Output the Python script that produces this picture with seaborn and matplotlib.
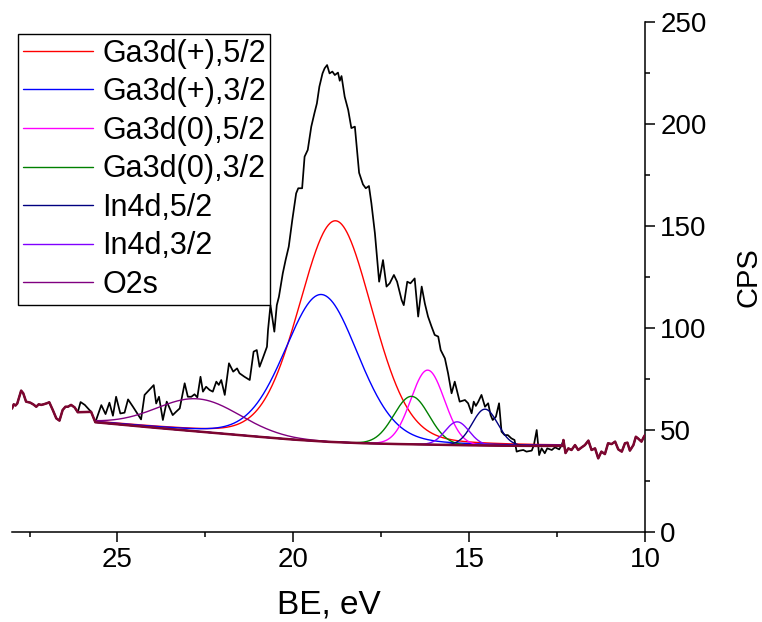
import numpy as np
import pandas as pd
import matplotlib
matplotlib.use("Agg")
import matplotlib.pyplot as plt
from matplotlib.ticker import FixedLocator
import seaborn as sns

# Measured Ga3d / In4d region: binding energy (eV) and counts per second
be = [28.00, 27.95, 27.90, 27.85, 27.74, 27.68, 27.60, 27.48, 27.39, 27.31,
      27.24, 27.17, 27.10, 27.01, 26.94, 26.84, 26.74, 26.65, 26.56, 26.48,
      26.41, 26.32, 26.22, 26.13, 26.05, 25.93, 25.75, 25.63, 25.46, 25.34,
      25.23, 25.13, 25.04, 24.92, 24.80, 24.70, 24.56, 24.33, 24.23, 23.97,
      23.90, 23.82, 23.71, 23.60, 23.43, 23.33, 23.23, 23.09, 23.00, 22.90,
      22.81, 22.73, 22.64, 22.57, 22.48, 22.38, 22.29, 22.19, 22.12, 22.05,
      21.95, 21.83, 21.71, 21.60, 21.53, 21.39, 21.24, 21.13, 21.04, 20.96,
      20.87, 20.75, 20.72, 20.65, 20.54, 20.47, 20.41, 20.30, 20.22, 20.13,
      20.03, 19.92, 19.86, 19.75, 19.68, 19.59, 19.49, 19.40, 19.33, 19.26,
      19.17, 19.11, 19.04, 18.97, 18.89, 18.82, 18.73, 18.68, 18.63, 18.54,
      18.44, 18.35, 18.25, 18.13, 18.02, 17.94, 17.85, 17.78, 17.68, 17.56,
      17.45, 17.35, 17.26, 17.14, 17.05, 16.92, 16.86, 16.76, 16.67, 16.55,
      16.45, 16.35, 16.26, 16.17, 16.07, 15.98, 15.88, 15.81, 15.69, 15.60,
      15.50, 15.41, 15.27, 15.12, 15.03, 14.93, 14.87, 14.81, 14.74, 14.65,
      14.55, 14.46, 14.39, 14.33, 14.24, 14.15, 14.08, 13.99, 13.90, 13.80,
      13.71, 13.65, 13.56, 13.46, 13.37, 13.22, 13.16, 13.08, 13.01, 12.94,
      12.85, 12.78, 12.65, 12.56, 12.44, 12.37, 12.32, 12.26, 12.18, 12.09,
      11.99, 11.90, 11.80, 11.71, 11.61, 11.52, 11.42, 11.33, 11.24, 11.14,
      11.05, 10.95, 10.85, 10.76, 10.66, 10.57, 10.50, 10.43, 10.33, 10.26,
      10.20, 10.10, 10.03, 10.00]
cps = [60.5, 62.6, 62.0, 63.0, 69.3, 68.0, 63.9, 63.4, 62.5, 61.4,
       62.6, 62.3, 62.6, 63.1, 63.6, 59.8, 55.7, 54.6, 59.8, 61.4,
       61.4, 62.3, 61.1, 58.7, 63.7, 62.3, 58.9, 53.8, 62.2, 57.8,
       63.4, 57.0, 66.3, 58.1, 58.5, 65.0, 61.4, 55.2, 67.2, 72.0,
       63.0, 66.3, 54.9, 63.9, 57.3, 59.0, 60.6, 72.9, 66.3, 66.3,
       67.5, 66.0, 76.1, 68.8, 71.2, 69.6, 68.8, 73.7, 72.1, 74.5,
       67.2, 82.7, 78.6, 80.2, 77.8, 76.1, 74.5, 88.4, 89.2, 81.0,
       85.1, 90.8, 99.0, 111.2, 98.2, 111.2, 115.3, 126.8, 133.3, 139.9,
       152.9, 166.0, 168.5, 168.5, 184.0, 187.3, 198.7, 205.3, 210.1, 218.3,
       224.8, 227.3, 228.9, 224.8, 225.7, 224.0, 225.2, 221.2, 223.5, 213.4,
       206.9, 198.0, 198.7, 176.1, 170.4, 168.5, 169.6, 161.1, 146.4, 122.7,
       133.3, 120.3, 121.9, 126.0, 122.7, 113.7, 111.2, 122.7, 121.9, 124.3,
       105.6, 120.3, 112.0, 105.6, 100.7, 96.6, 95.8, 89.2, 85.1, 77.8,
       68.0, 73.7, 63.9, 64.7, 63.1, 58.2, 63.9, 61.8, 63.9, 67.2,
       61.4, 63.1, 57.3, 54.9, 56.5, 63.1, 49.2, 47.5, 47.5, 45.9,
       45.1, 39.4, 39.9, 40.2, 39.4, 39.9, 42.6, 50.0, 37.7, 41.0,
       38.6, 41.0, 40.2, 41.5, 40.5, 42.6, 45.1, 38.7, 41.0, 40.2,
       42.6, 40.2, 41.5, 42.6, 44.8, 40.2, 41.0, 36.1, 39.4, 38.2,
       43.5, 43.1, 44.3, 40.5, 39.4, 43.5, 43.8, 39.9, 42.6, 46.7,
       45.9, 44.3, 46.7, 47.5]

# Background under the fitted envelope (anchor points across the fit window)
bg_be = [25.63, 25.0, 24.0, 23.0, 22.0, 21.0, 20.0, 19.0, 18.0, 17.0, 16.0, 15.0, 14.0, 13.0, 12.33]
bg_cps = [53.8, 52.8, 51.2, 49.7, 48.2, 46.7, 45.3, 44.2, 43.5, 43.1, 42.8, 42.5, 42.3, 42.2, 42.2]

# Fitted components
peak_names = ["Ga3d(+),5/2", "Ga3d(+),3/2", "Ga3d(0),5/2", "Ga3d(0),3/2",
              "In4d,5/2", "In4d,3/2", "O2s"]
peak_center = [18.80, 19.20, 16.18, 16.64, 14.55, 15.34, 22.70]
peak_height = [108.5, 72.0, 36.5, 23.5, 17.8, 11.4, 16.0]
peak_fwhm = [2.45, 2.45, 1.12, 1.18, 0.85, 0.80, 2.80]
peak_lorentz = [0.15, 0.15, 0.0, 0.0, 0.0, 0.0, 0.0]
peak_colors = ["#FF0000", "#0000FF", "#FF00FF", "#008000", "#000080", "#8000FF", "#800080"]

FIT_HI = 25.75      # upper edge of the fit window (eV)
FIT_LO = 12.33      # lower edge of the fit window (eV)
BASE_COLOR = "#7D0630"

sns.set_style("white")
plt.rcParams["font.family"] = ["Liberation Sans", "DejaVu Sans"]
plt.rcParams.update({"text.color": "black", "axes.labelcolor": "black",
                     "xtick.color": "black", "ytick.color": "black"})

spec = pd.DataFrame({"be": be, "cps": cps})
background = pd.DataFrame({"be": bg_be, "cps": bg_cps})

fig = plt.figure(figsize=(7.62, 6.22), dpi=100)
ax = fig.add_axes([12 / 762, 90 / 622, 633 / 762, 510 / 622])

# raw spectrum
sns.lineplot(data=spec, x="be", y="cps", ax=ax, color="black", lw=1.25,
             sort=False, estimator=None, zorder=2)

# component curves, each drawn on top of the background
grid = np.linspace(bg_be[0], bg_be[-1], 800)
bg_grid = np.interp(grid, bg_be[::-1], bg_cps[::-1])
handles = []
for name, c, h, w, eta, col in zip(peak_names, peak_center, peak_height,
                                   peak_fwhm, peak_lorentz, peak_colors):
    u = (grid - c) / w
    shape = (1 - eta) * np.exp(-4 * np.log(2) * u ** 2) + eta / (1 + 4 * u ** 2)
    comp = pd.DataFrame({"be": grid, "cps": bg_grid + h * shape})
    sns.lineplot(data=comp, x="be", y="cps", ax=ax, color=col, lw=1.0,
                 sort=False, estimator=None, zorder=3)
    handles.append(ax.lines[-1])

# baseline: data outside the window joined to the background inside it
left = spec[(spec.be >= 26.1) | np.isclose(spec.be, FIT_HI)]
right = spec[spec.be < FIT_LO]
trace = pd.concat([left, background, right], ignore_index=True)
sns.lineplot(data=trace, x="be", y="cps", ax=ax, color=BASE_COLOR, lw=1.8,
             sort=False, estimator=None, zorder=4)

ax.set_xlim(28, 10)
ax.set_ylim(0, 250)
ax.spines["left"].set_visible(False)
ax.spines["top"].set_visible(False)
for s in ("bottom", "right"):
    ax.spines[s].set_linewidth(1.1)
    ax.spines[s].set_color("black")

ax.yaxis.tick_right()
ax.yaxis.set_label_position("right")
ax.set_xticks([25, 20, 15, 10])
ax.xaxis.set_minor_locator(FixedLocator([27.5, 22.5, 17.5, 12.5]))
ax.set_yticks([0, 50, 100, 150, 200, 250])
ax.yaxis.set_minor_locator(FixedLocator([25, 75, 125, 175, 225]))
ax.tick_params(which="major", direction="out", length=7, width=1.1, color="black",
               labelcolor="black", labelsize=20, pad=4)
ax.tick_params(which="minor", direction="out", length=3.5, width=1.1, color="black")
ax.tick_params(axis="y", which="both", left=False, right=True)
ax.tick_params(axis="x", which="both", bottom=True, top=False)

ax.set_xlabel("BE, eV", fontsize=24, labelpad=12, color="black")
ax.set_ylabel("CPS", fontsize=21, labelpad=20, color="black")

leg = ax.legend(handles, peak_names, loc="upper left",
                bbox_to_anchor=(18 / 762, 1 - 34 / 622), bbox_transform=fig.transFigure,
                frameon=True, fancybox=False, shadow=False, framealpha=1,
                edgecolor="black", fontsize=22, handlelength=2.3, handletextpad=0.3,
                labelspacing=0.28, borderpad=0.15, borderaxespad=0)
leg.get_frame().set_linewidth(1.0)
leg.set_zorder(10)
for t in leg.get_texts():
    t.set_color("black")

fig.savefig("out.png", dpi=100)
